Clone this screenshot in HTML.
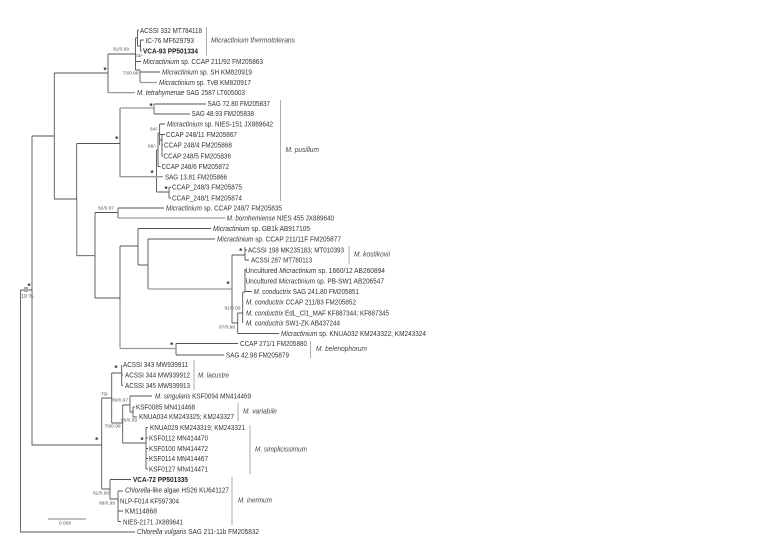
<!DOCTYPE html>
<html><head><meta charset="utf-8"><style>
html,body{margin:0;padding:0;background:#fff}
svg{display:block;filter:blur(.25px)}
text{font-family:"Liberation Sans",sans-serif;font-size:7px;fill:#333}
.i{font-style:italic}
.b{font-weight:bold;fill:#222}
.c{font-style:italic;fill:#444}
.s{font-size:4.8px;fill:#555}
.a{font-size:8px;font-weight:bold;fill:#333;text-anchor:middle}
</style></head><body>
<svg xmlns="http://www.w3.org/2000/svg" width="762" height="548" viewBox="0 0 762 548">
<rect width="762" height="548" fill="#fff"/>
<g fill="none" stroke="#555" stroke-width="0.9">
<path d="M20.5 290V532H135M20.5 290H32M32 136V445H101.7M32 136H54.3M54.3 73V199H76.7M54.3 73H108M108 54V92.6M108 54H135.5M135.5 38V70M135.5 38H137.5M137.5 30V46M137.5 30H139M137.5 46H140.5M140.5 40V51M140.5 40H144M140.5 51H142M135.5 61.5H141M135.5 70H140M140 70V82.5M140 72H160M76.7 143.5V255.7M76.7 143.5H120M120 108V176.7M154 104V114M154 104H206M154 114H190M156.5 150V192M156.5 150H158M158 133V166.5M158 166.5H160.5M158 133H159.6M159.6 124V145M159.6 124H165M159.6 134.5H165M159.6 140H162M162 135V156M162 145H163M162 156H163M156.5 192H169M169 187.5V198M169 187.5H171M169 198H171M76.7 255.7H95M95 212.5V298M95 212.5H118M118 208V218M118 208H164M95 298H120M120 246V300M120 246H138M138 228.5V265M138 228.5H211M138 265H148M148 239V289M148 239H215M232 255V323M232 255H245M245 247V260M245 250H247M245 260H249M232 323H237.7M237.7 313V333.5M237.7 333.5H279M237.7 313H242.7M242.7 292V323M245 269V292M242.7 292H245M245 270.5H246M245 291.5H252M176 343.5V355M176 343.5H238M176 355H224M101.7 398V489M101.7 398H111.7M111.7 373V423M111.7 373H121.7M121.7 365V385.5M121.7 375H123M121.7 385.5H123M111.7 423H122.7M122.7 405V443M122.7 405H130M130 396V412M130 396H152M130 412H133M133 407V417M133 407H135M133 417H137M122.7 443H146M146 427.5V469M146 427.5H148M146 438H148M146 448.5H148M146 458.5H148M146 469H148M101.7 489H110M110 479.5V499M110 479.5H131M110 499H118M118 491V521.5M118 491H123M118 501H119M118 511H123M118 521.5H121"/>
</g>
<g fill="none" stroke="#999" stroke-width="1.3">
<path d="M108 92.6H135M140 82.5H157M120 108H154M120 176.7H163M120 300V348.5M120 348.5H176M118 218H225M148 289H232M48 519H86M76.7 200V255"/>
</g>
<path d="M206.5 27V55.5M280.5 100V201M349 246V264M310.5 341V358M194 360V390M238 403V421M250 425V474M232 477V525" stroke="#999" stroke-width="0.8" fill="none"/>
<rect x="24" y="287" width="4" height="5" fill="#aaa"/>
<g>
<text x="140" y="33" textLength="62" lengthAdjust="spacingAndGlyphs">ACSSI 332 MT784118</text>
<text x="145.5" y="43" textLength="48.5" lengthAdjust="spacingAndGlyphs">IC-76 MF629793</text>
<text x="143" y="53.3" textLength="55" lengthAdjust="spacingAndGlyphs" class="b">VCA-93 PP501334</text>
<text x="143" y="63.8" textLength="120" lengthAdjust="spacingAndGlyphs"><tspan class="i">Micractinium</tspan> sp. CCAP 211/92 FM205863</text>
<text x="162" y="74.3" textLength="90" lengthAdjust="spacingAndGlyphs"><tspan class="i">Micractinium</tspan> sp. SH KM820919</text>
<text x="159" y="84.8" textLength="92" lengthAdjust="spacingAndGlyphs"><tspan class="i">Micractinium</tspan> sp. TvB KM820917</text>
<text x="137" y="94.8" textLength="108" lengthAdjust="spacingAndGlyphs"><tspan class="i">M. tetrahymenae</tspan> SAG 2587 LT605003</text>
<text x="207.5" y="105.8" textLength="62.5" lengthAdjust="spacingAndGlyphs">SAG 72.80 FM205837</text>
<text x="191.5" y="115.8" textLength="62.5" lengthAdjust="spacingAndGlyphs">SAG 48.93 FM205838</text>
<text x="167" y="126.3" textLength="106" lengthAdjust="spacingAndGlyphs"><tspan class="i">Micractinium</tspan> sp. NIES-151 JX889642</text>
<text x="166" y="136.8" textLength="71" lengthAdjust="spacingAndGlyphs">CCAP 248/11 FM205867</text>
<text x="164" y="147.3" textLength="68" lengthAdjust="spacingAndGlyphs">CCAP 248/4 FM205868</text>
<text x="163.5" y="158.3" textLength="67.5" lengthAdjust="spacingAndGlyphs">CCAP 248/5 FM205836</text>
<text x="161.5" y="168.8" textLength="67.5" lengthAdjust="spacingAndGlyphs">CCAP 248/6 FM205872</text>
<text x="165" y="179.3" textLength="62" lengthAdjust="spacingAndGlyphs">SAG 13.81 FM205866</text>
<text x="172" y="189.3" textLength="70" lengthAdjust="spacingAndGlyphs">CCAP_248/3 FM205875</text>
<text x="172" y="200.3" textLength="70" lengthAdjust="spacingAndGlyphs">CCAP_248/1 FM205874</text>
<text x="166" y="210.3" textLength="116" lengthAdjust="spacingAndGlyphs"><tspan class="i">Micractinium</tspan> sp. CCAP 248/7 FM205835</text>
<text x="226.7" y="220.3" textLength="107.3" lengthAdjust="spacingAndGlyphs"><tspan class="i">M. bornhemiense</tspan> NIES 455 JX889640</text>
<text x="213" y="230.8" textLength="97" lengthAdjust="spacingAndGlyphs"><tspan class="i">Micractinium</tspan> sp. GB1k AB917105</text>
<text x="217" y="241.3" textLength="124" lengthAdjust="spacingAndGlyphs"><tspan class="i">Micractinium</tspan> sp. CCAP 211/11F FM205877</text>
<text x="248" y="252.3" textLength="96" lengthAdjust="spacingAndGlyphs">ACSSI 198 MK235183; MT010393</text>
<text x="251" y="262.3" textLength="61" lengthAdjust="spacingAndGlyphs">ACSSI 287 MT780113</text>
<text x="245.5" y="272.8" textLength="139.5" lengthAdjust="spacingAndGlyphs">Uncultured <tspan class="i">Micractinium</tspan> sp. 1660/12 AB260894</text>
<text x="245.5" y="283.3" textLength="138.5" lengthAdjust="spacingAndGlyphs">Uncultured <tspan class="i">Micractinium</tspan> sp. PB-SW1 AB206547</text>
<text x="253.5" y="293.8" textLength="105.5" lengthAdjust="spacingAndGlyphs"><tspan class="i">M. conductrix</tspan> SAG 241.80 FM205851</text>
<text x="246" y="304.3" textLength="110" lengthAdjust="spacingAndGlyphs"><tspan class="i">M. conductrix</tspan> CCAP 211/83 FM205852</text>
<text x="246" y="315.3" textLength="143" lengthAdjust="spacingAndGlyphs"><tspan class="i">M. conductrix</tspan> EdL_Cl1_MAF KF887344; KF887345</text>
<text x="246" y="325.3" textLength="94" lengthAdjust="spacingAndGlyphs"><tspan class="i">M. conductrix</tspan> SW1-ZK AB437244</text>
<text x="281" y="335.8" textLength="145" lengthAdjust="spacingAndGlyphs"><tspan class="i">Micractinium</tspan> sp. KNUA032 KM243322; KM243324</text>
<text x="240" y="345.8" textLength="67" lengthAdjust="spacingAndGlyphs">CCAP 271/1 FM205880</text>
<text x="226" y="357.3" textLength="63" lengthAdjust="spacingAndGlyphs">SAG 42.98 FM205879</text>
<text x="123" y="366.8" textLength="65" lengthAdjust="spacingAndGlyphs">ACSSI 343 MW939911</text>
<text x="125" y="377.3" textLength="65" lengthAdjust="spacingAndGlyphs">ACSSI 344 MW939912</text>
<text x="125" y="387.8" textLength="65" lengthAdjust="spacingAndGlyphs">ACSSI 345 MW939913</text>
<text x="155" y="398.3" textLength="96" lengthAdjust="spacingAndGlyphs"><tspan class="i">M. singularis</tspan> KSF0094 MN414469</text>
<text x="136" y="409.3" textLength="59" lengthAdjust="spacingAndGlyphs">KSF0085 MN414468</text>
<text x="139" y="418.8" textLength="95" lengthAdjust="spacingAndGlyphs">KNUA034 KM243325; KM243327</text>
<text x="150" y="429.8" textLength="95" lengthAdjust="spacingAndGlyphs">KNUA029 KM243319; KM243321</text>
<text x="149" y="440.3" textLength="59" lengthAdjust="spacingAndGlyphs">KSF0112 MN414470</text>
<text x="149" y="450.8" textLength="59" lengthAdjust="spacingAndGlyphs">KSF0100 MN414472</text>
<text x="149" y="460.8" textLength="59" lengthAdjust="spacingAndGlyphs">KSF0114 MN414467</text>
<text x="149" y="471.3" textLength="59" lengthAdjust="spacingAndGlyphs">KSF0127 MN414471</text>
<text x="133" y="481.8" textLength="55" lengthAdjust="spacingAndGlyphs" class="b">VCA-72 PP501335</text>
<text x="125" y="492.3" textLength="104" lengthAdjust="spacingAndGlyphs"><tspan class="i">Chlorella</tspan>-like algae HS26 KU641127</text>
<text x="120" y="503.3" textLength="59" lengthAdjust="spacingAndGlyphs">NLP-F014 KF597304</text>
<text x="125" y="513.3" textLength="32" lengthAdjust="spacingAndGlyphs">KM114868</text>
<text x="123" y="524.3" textLength="60" lengthAdjust="spacingAndGlyphs">NIES-2171 JX889641</text>
<text x="137" y="533.8" textLength="122" lengthAdjust="spacingAndGlyphs"><tspan class="i">Chlorella vulgaris</tspan> SAG 211-11b FM205832</text>

<text class="c" x="211" y="42.3" textLength="84" lengthAdjust="spacingAndGlyphs">Micractinium thermotolerans</text>
<text class="c" x="285.5" y="151.8" textLength="33.5" lengthAdjust="spacingAndGlyphs">M. pusillum</text>
<text class="c" x="354" y="256.3" textLength="36" lengthAdjust="spacingAndGlyphs">M. kostikovii</text>
<text class="c" x="316" y="350.8" textLength="51" lengthAdjust="spacingAndGlyphs">M. belenophorum</text>
<text class="c" x="198" y="377.3" textLength="31" lengthAdjust="spacingAndGlyphs">M. lacustre</text>
<text class="c" x="243" y="413.3" textLength="34" lengthAdjust="spacingAndGlyphs">M. variabile</text>
<text class="c" x="255" y="451.3" textLength="52" lengthAdjust="spacingAndGlyphs">M. simplicissimum</text>
<text class="c" x="238" y="502.3" textLength="34" lengthAdjust="spacingAndGlyphs">M. inermum</text>
</g>
<g>
<text class="s" x="113" y="50.5">91/0.99</text>
<text class="s" x="135" y="57">63/-</text>
<text class="s" x="122.5" y="74.5">73/0.98</text>
<text class="s" x="150" y="130.5">64/-</text>
<text class="s" x="148" y="147.5">66/-</text>
<text class="s" x="98" y="209.5">82/0.97</text>
<text class="s" x="224.5" y="309.5">91/0.99</text>
<text class="s" x="219" y="328.5">87/0.98</text>
<text class="s" x="100.7" y="395.5">79/-</text>
<text class="s" x="112" y="401.5">80/0.97</text>
<text class="s" x="121" y="421.5">95/0.99</text>
<text class="s" x="104.5" y="427.5">79/0.99</text>
<text class="s" x="93" y="494.5">81/0.98</text>
<text class="s" x="99" y="504.5">89/0.99</text>
<text class="s" x="59" y="524.5">0.008</text>
<text class="s" x="21" y="298" style="fill:#556;font-size:5.5px">10 %</text>
<text class="a" x="105" y="73">*</text>
<text class="a" x="151" y="109">*</text>
<text class="a" x="116.7" y="142">*</text>
<text class="a" x="152" y="176">*</text>
<text class="a" x="166" y="192">*</text>
<text class="a" x="240.7" y="254">*</text>
<text class="a" x="228" y="287">*</text>
<text class="a" x="171.7" y="348">*</text>
<text class="a" x="116" y="371">*</text>
<text class="a" x="96.7" y="443">*</text>
<text class="a" x="142" y="443">*</text>
<text class="a" x="29" y="289">*</text>
</g>
</svg>
</body></html>
